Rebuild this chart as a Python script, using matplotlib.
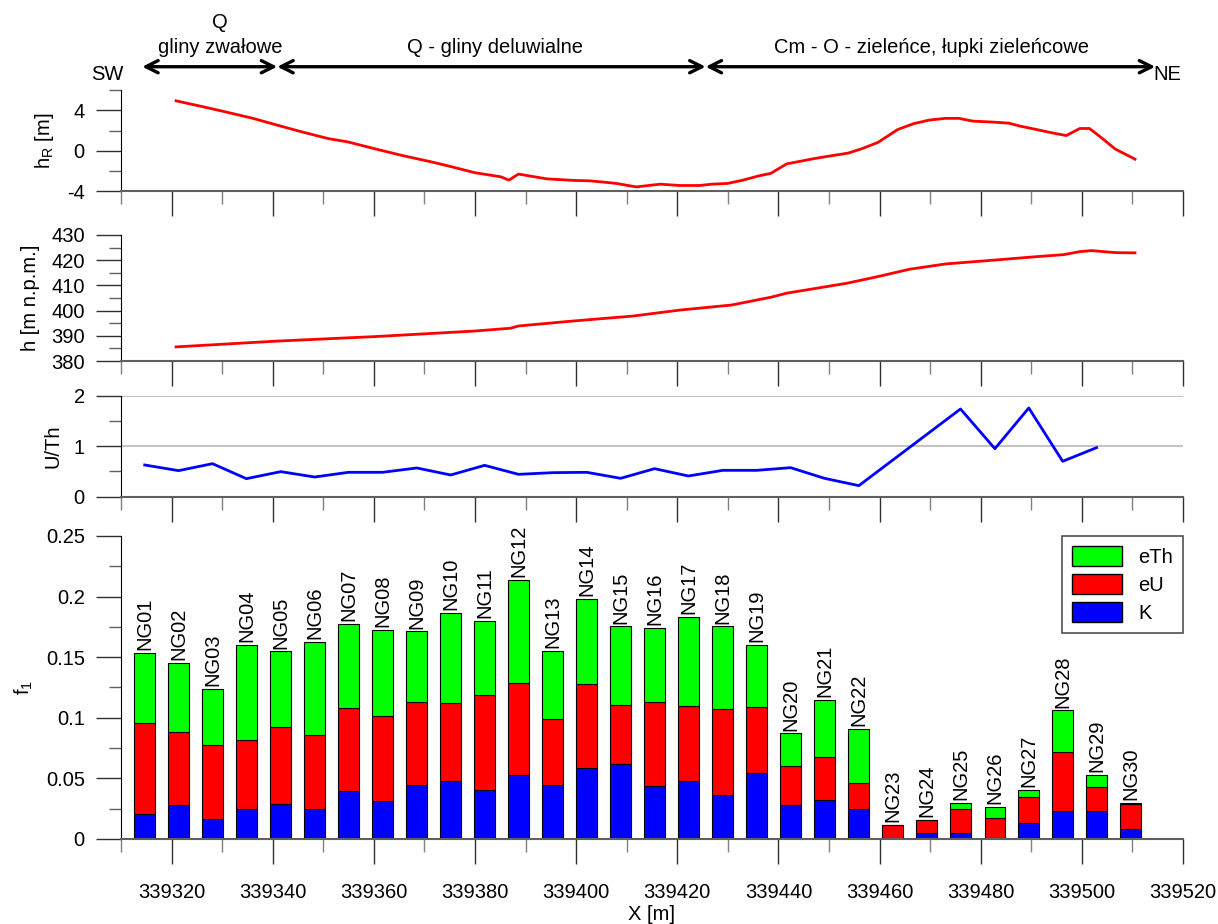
import numpy as np
import matplotlib.pyplot as plt
from matplotlib.patches import Patch
from matplotlib.ticker import MultipleLocator
from matplotlib.transforms import blended_transform_factory

plt.rcParams['font.family'] = ['Liberation Sans', 'DejaVu Sans']
plt.rcParams['font.size'] = 14.5
plt.rcParams['axes.unicode_minus'] = False

# === profil h_R (rzezba resztkowa) ===
x_hr = [339320.9, 339326.0, 339329.9, 339336.1, 339340.9, 339345.5, 339351.0, 339354.9,
        339360.4, 339365.9, 339371.4, 339374.5, 339380.0, 339385.1, 339386.7, 339388.6,
        339394.1, 339399.6, 339402.7, 339405.5, 339408.0, 339411.9, 339416.6, 339420.5,
        339424.4, 339426.8, 339429.9, 339433.0, 339436.2, 339438.5, 339441.6, 339447.1,
        339449.5, 339453.8, 339456.5, 339459.7, 339463.6, 339466.7, 339469.8, 339473.0,
        339475.7, 339478.4, 339482.4, 339485.5, 339487.8, 339491.0, 339494.1, 339496.9,
        339499.6, 339501.5, 339503.5, 339506.6, 339510.5]
hr = [4.93, 4.37, 3.93, 3.2, 2.53, 1.9, 1.2, 0.87,
      0.17, -0.5, -1.1, -1.47, -2.17, -2.57, -2.9, -2.3,
      -2.77, -2.93, -2.97, -3.1, -3.23, -3.57, -3.3, -3.43,
      -3.43, -3.3, -3.23, -2.9, -2.47, -2.23, -1.3, -0.77,
      -0.57, -0.23, 0.2, 0.83, 2.1, 2.67, 3.03, 3.2,
      3.2, 2.93, 2.83, 2.73, 2.43, 2.1, 1.77, 1.5,
      2.2, 2.2, 1.43, 0.17, -0.83]

# === profil wysokosci h ===
x_h = [339320.9, 339340.9, 339360.4, 339380.0, 339387.0, 339388.6, 339399.6, 339405.0,
       339411.1, 339420.5, 339430.7, 339438.5, 339441.6, 339453.4, 339459.7, 339465.9,
       339473.0, 339483.1, 339491.0, 339496.4, 339499.6, 339501.9, 339506.6, 339510.5]
h = [385.6, 387.9, 389.7, 391.9, 393.0, 393.9, 395.9, 396.8,
     397.8, 400.2, 402.2, 405.3, 406.9, 410.8, 413.5, 416.4,
     418.5, 420.1, 421.4, 422.2, 423.4, 423.8, 423.0, 422.9]

# === punkty pomiarowe ===
punkty = ['NG%02d' % i for i in range(1, 31)]
x_pkt = [339314.7, 339321.4, 339328.1, 339334.8, 339341.6, 339348.3, 339355.0, 339361.7,
         339368.5, 339375.2, 339381.9, 339388.6, 339395.4, 339402.1, 339408.8, 339415.5,
         339422.2, 339429.0, 339435.7, 339442.4, 339449.1, 339455.9, 339462.6, 339469.3,
         339476.0, 339482.8, 339489.5, 339496.2, 339502.9, 339509.6]
K = [0.021, 0.028, 0.0165, 0.025, 0.029, 0.025, 0.0396, 0.0313, 0.0448, 0.0478,
     0.0404, 0.053, 0.0448, 0.0585, 0.0615, 0.044, 0.0478, 0.0365, 0.0544, 0.028,
     0.0321, 0.025, 0.0, 0.0049, 0.0049, 0.0008, 0.0135, 0.0231, 0.0231, 0.0082]
eU = [0.0743, 0.0599, 0.061, 0.0563, 0.0633, 0.0607, 0.0684, 0.0701, 0.0678, 0.0646,
      0.078, 0.0756, 0.0541, 0.0692, 0.0487, 0.0686, 0.0621, 0.0709, 0.0541, 0.0319,
      0.0352, 0.0212, 0.0115, 0.0108, 0.0196, 0.0165, 0.0211, 0.0483, 0.0198, 0.0209]
eTh = [0.058, 0.0572, 0.0464, 0.0786, 0.0624, 0.0767, 0.0697, 0.0711, 0.0586, 0.0739,
       0.0613, 0.0849, 0.056, 0.0701, 0.0651, 0.0613, 0.0736, 0.0679, 0.0517, 0.0272,
       0.0475, 0.0447, 0.0, 0.0, 0.0054, 0.0091, 0.0058, 0.0346, 0.0101, 0.0006]
u_th = [0.627, 0.515, 0.653, 0.356, 0.495, 0.389, 0.482, 0.482, 0.568, 0.429,
        0.62, 0.442, 0.475, 0.482, 0.363, 0.554, 0.409, 0.521, 0.521, 0.574,
        0.363, 0.218, np.nan, np.nan, 1.736, 0.95, 1.756, 0.7, 0.97, np.nan]

# granice wydzielen geologicznych (os X)
granice = [339314.2, 339340.9, 339425.6, 339514.5]

fig = plt.figure(figsize=(12.18, 9.24), dpi=100)
L, W = 0.0993, 0.872
ax_hr = fig.add_axes([L, 0.793, W, 0.1096])
ax_h = fig.add_axes([L, 0.6093, W, 0.1364])
ax_u = fig.add_axes([L, 0.4625, W, 0.1093])
ax_f = fig.add_axes([L, 0.092, W, 0.328])


def styl(ax, labels=False):
    for s in ['top', 'right']:
        ax.spines[s].set_visible(False)
    ax.spines['left'].set_color('black')
    ax.spines['bottom'].set_color('#606060')
    ax.spines['bottom'].set_linewidth(1.5)
    ax.set_xlim(339310, 339520)
    ax.xaxis.set_major_locator(MultipleLocator(20))
    ax.xaxis.set_minor_locator(MultipleLocator(10))
    ax.tick_params(axis='x', which='major', length=18, width=1, color='#303030',
                   pad=14, labelbottom=labels)
    ax.tick_params(axis='x', which='minor', length=9, width=1, color='#808080')
    ax.tick_params(axis='y', which='major', length=18, width=1, color='#303030', pad=8)
    ax.tick_params(axis='y', which='minor', length=9, width=1, color='#606060')
    ax.yaxis.labelpad = 8


# === h_R ===
styl(ax_hr)
ax_hr.plot(x_hr, hr, color='red', lw=2)
ax_hr.set_ylim(-4, 6)
ax_hr.set_yticks([-4, 0, 4])
ax_hr.yaxis.set_minor_locator(MultipleLocator(2))
ax_hr.set_ylabel('h$_\\mathregular{R}$ [m]')

# strzalki z wydzieleniami
for a, b in zip(granice[:-1], granice[1:]):
    ax_hr.annotate('', xy=(b, 0.9278), xytext=(a, 0.9278),
                   xycoords=('data', 'figure fraction'), textcoords=('data', 'figure fraction'),
                   arrowprops=dict(arrowstyle='<->', lw=2.4, color='black', mutation_scale=22,
                                   shrinkA=0, shrinkB=0),
                   annotation_clip=False)
tr = blended_transform_factory(ax_hr.transData, fig.transFigure)
opisy = [(339329.6, 0.976, 'Q'), (339329.6, 0.949, 'gliny zwałowe'),
         (339383.9, 0.949, 'Q - gliny deluwialne'),
         (339470.2, 0.949, 'Cm - O - zieleńce, łupki zieleńcowe'),
         (339307.4, 0.919, 'SW'), (339516.9, 0.919, 'NE')]
for xx, yy, t in opisy:
    ax_hr.text(xx, yy, t, transform=tr, ha='center', va='center')

# === h ===
styl(ax_h)
ax_h.plot(x_h, h, color='red', lw=2)
ax_h.set_ylim(380, 430)
ax_h.yaxis.set_major_locator(MultipleLocator(10))
ax_h.yaxis.set_minor_locator(MultipleLocator(5))
ax_h.set_ylabel('h [m n.p.m.]')

# === U/Th ===
styl(ax_u)
u = np.array(u_th)
ok = ~np.isnan(u)
ax_u.plot(np.array(x_pkt)[ok], u[ok], color='blue', lw=2)
ax_u.set_ylim(0, 2)
ax_u.yaxis.set_major_locator(MultipleLocator(1))
ax_u.yaxis.set_minor_locator(MultipleLocator(0.5))
ax_u.yaxis.grid(True, which='major', color='#b8b8b8', lw=1.2)
ax_u.set_axisbelow(True)
ax_u.set_ylabel('U/Th')

# === f1 - slupki ===
styl(ax_f, labels=True)
K = np.array(K)
eU = np.array(eU)
eTh = np.array(eTh)
w = 4.1
ax_f.bar(x_pkt, K, width=w, color='#0000ff', edgecolor='black', lw=0.8)
ax_f.bar(x_pkt, eU, width=w, bottom=K, color='#ff0000', edgecolor='black', lw=0.8)
ax_f.bar(x_pkt, eTh, width=w, bottom=K + eU, color='#00ff00', edgecolor='black', lw=0.8)
for xx, top, nm in zip(x_pkt, K + eU + eTh, punkty):
    ax_f.annotate(nm, (xx, top), xytext=(0, 2), textcoords='offset points',
                  rotation=90, ha='center', va='bottom')
ax_f.set_ylim(0, 0.25)
ax_f.set_yticks([0, 0.05, 0.1, 0.15, 0.2, 0.25])
ax_f.set_yticklabels(['0', '0.05', '0.1', '0.15', '0.2', '0.25'])
ax_f.yaxis.set_minor_locator(MultipleLocator(0.025))
ax_f.set_ylabel('f$_\\mathregular{1}$')
ax_f.set_xlabel('X [m]', labelpad=2)
ax_f.ticklabel_format(axis='x', useOffset=False, style='plain')

handles = [Patch(facecolor='#00ff00', edgecolor='black', label='eTh'),
           Patch(facecolor='#ff0000', edgecolor='black', label='eU'),
           Patch(facecolor='#0000ff', edgecolor='black', label='K')]
leg = ax_f.legend(handles=handles, loc='upper right', borderaxespad=0, fancybox=False,
                  framealpha=1, edgecolor='#505050', handlelength=2.5, handleheight=1.15,
                  labelspacing=0.35, borderpad=0.5)
leg.get_frame().set_linewidth(1.2)

fig.savefig('out.png', dpi=100)
